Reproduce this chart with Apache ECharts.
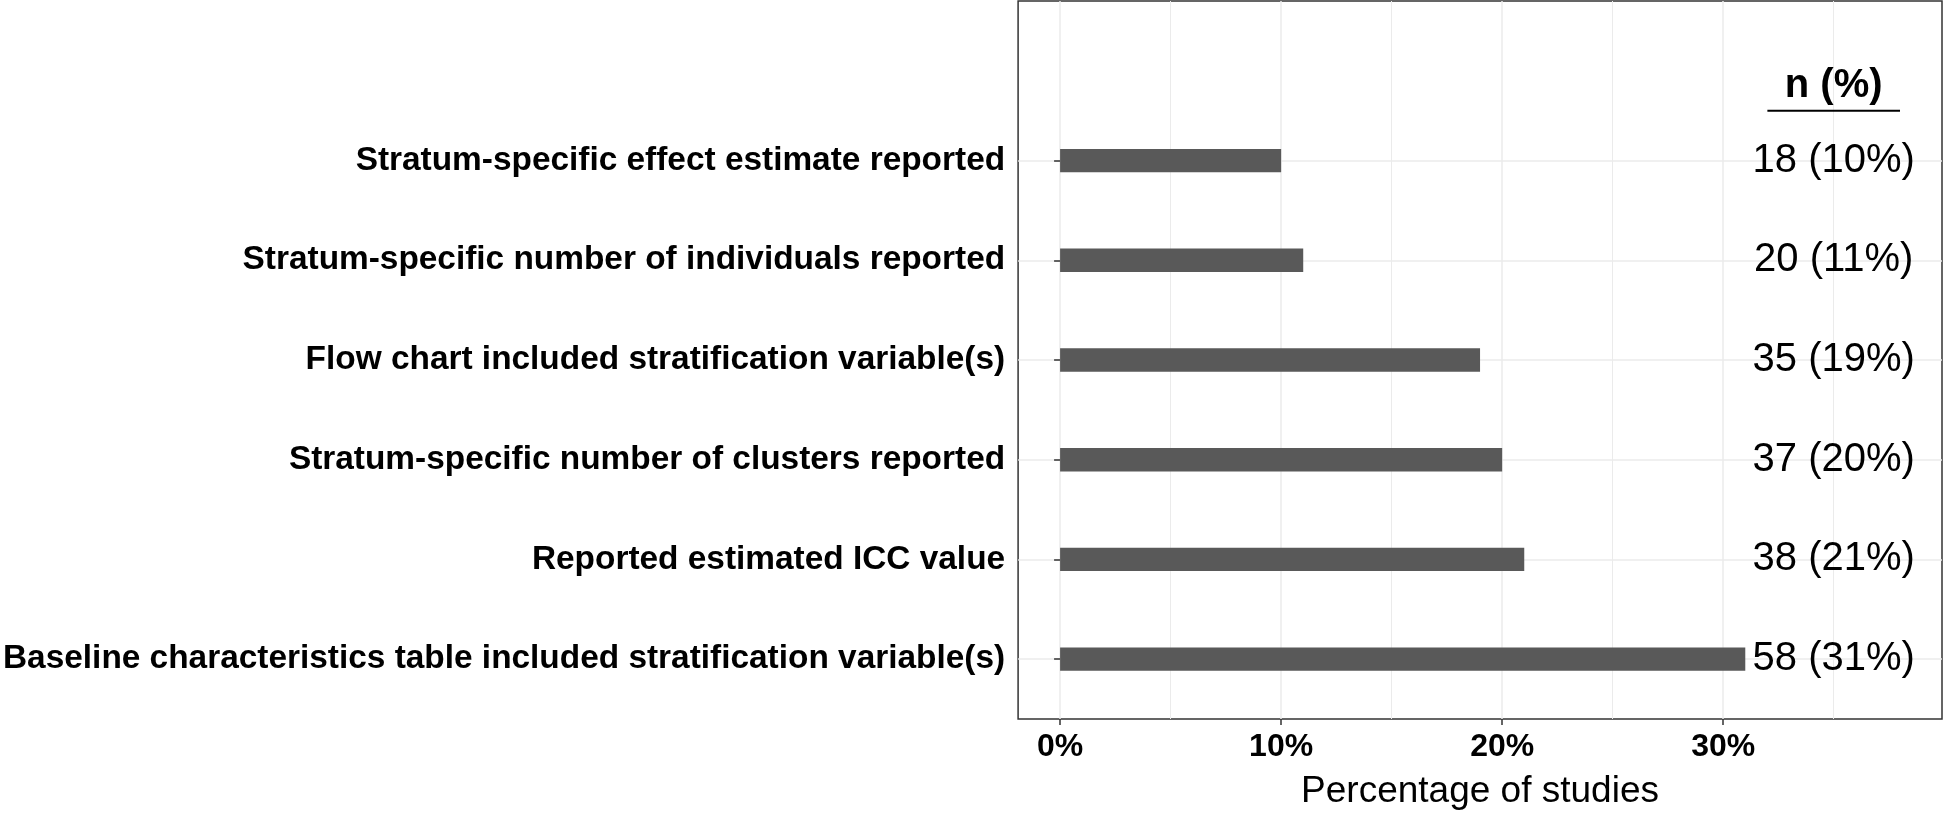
<!DOCTYPE html>
<html>
<head>
<meta charset="utf-8">
<script src="https://cdn.jsdelivr.net/npm/echarts@6/dist/echarts.min.js"></script>
<style>
html,body{margin:0;padding:0;background:#fff;}
#chart{width:1946px;height:815px;}
</style>
</head>
<body>
<div id="chart"></div>
<script>
// Categories listed bottom (y=1) to top (y=6)
var categories = [
  "Baseline characteristics table included stratification variable(s)",
  "Reported estimated ICC value",
  "Stratum-specific number of clusters reported",
  "Flow chart included stratification variable(s)",
  "Stratum-specific number of individuals reported",
  "Stratum-specific effect estimate reported"
];
var percentValues = [31, 21, 20, 19, 11, 10];
var countLabels = ["58 (31%)", "38 (21%)", "37 (20%)", "35 (19%)", "20 (11%)", "18 (10%)"];
var xTickValues = [0, 10, 20, 30];
var xMinorValues = [5, 15, 25, 35];
var headerLabel = "n (%)";
var labelColumnX = 35;
var headerY = 6.75;
var underlineY = 6.5;
var underlineX = [32, 38];

var positions = categories.map(function (c, i) { return i + 1; });
var barData = percentValues.map(function (v, i) { return [v, positions[i]]; });
var labelData = countLabels.map(function (t, i) { return [labelColumnX, positions[i], t]; });

var FONT = '"Liberation Sans", Arial, Helvetica, sans-serif';
var chart = echarts.init(document.getElementById('chart'));
chart.setOption({
  animation: false,
  backgroundColor: '#ffffff',
  grid: {
    left: 1012, right: 4, top: 1, bottom: 88,
    show: true, borderColor: '#333333', borderWidth: 1.5,
    containLabel: false
  },
  xAxis: [{
    type: 'value', min: -1.9, max: 39.9,
    axisLine: { show: false },
    axisTick: { show: true, customValues: xTickValues, length: 6, lineStyle: { color: '#333333', width: 1.5 } },
    axisLabel: {
      customValues: xTickValues, margin: 12,
      formatter: function (v) { return v + '%'; },
      fontFamily: FONT, fontWeight: 'bold', fontSize: 32, color: '#000000'
    },
    splitLine: { show: true, lineStyle: { color: '#ebebeb', width: 1.5 } },
    name: 'Percentage of studies', nameLocation: 'middle', nameGap: 54,
    nameTextStyle: { fontFamily: FONT, fontSize: 37, color: '#000000' }
  }, {
    type: 'value', min: -1.9, max: 39.9,
    axisLine: { show: false },
    axisTick: { show: false, customValues: xMinorValues },
    axisLabel: { show: false },
    splitLine: { show: true, lineStyle: { color: '#ebebeb', width: 1 } }
  }],
  yAxis: {
    type: 'value', min: 0.4, max: 7.6,
    axisLine: { show: false },
    axisTick: { show: true, customValues: positions, length: 6, lineStyle: { color: '#333333', width: 1.5 } },
    axisLabel: {
      customValues: positions, margin: 13,
      formatter: function (v) { return categories[Math.round(v) - 1]; },
      fontFamily: FONT, fontWeight: 'bold', fontSize: 33.4, color: '#000000'
    },
    splitLine: { show: true, lineStyle: { color: '#ebebeb', width: 1.5 } }
  },
  series: [{
    type: 'custom',
    xAxisIndex: 0,
    data: barData,
    encode: { x: 0, y: 1 },
    renderItem: function (params, api) {
      var v = api.value(0), y = api.value(1);
      var s = api.coord([0, y]);
      var e = api.coord([v, y]);
      var h = api.size([0, 0.234])[1];
      return {
        type: 'rect',
        shape: { x: s[0], y: s[1] - h / 2, width: e[0] - s[0], height: h },
        style: { fill: '#595959' }
      };
    },
    z: 3
  }, {
    type: 'scatter',
    xAxisIndex: 0,
    data: labelData,
    symbolSize: 0,
    itemStyle: { color: '#000000', opacity: 1 },
    label: {
      show: true, position: 'inside',
      formatter: function (p) { return p.data[2]; },
      fontFamily: FONT, fontSize: 40, color: '#000000', textBorderWidth: 0
    },
    z: 4
  }, {
    type: 'scatter',
    xAxisIndex: 0,
    data: [[labelColumnX, headerY, headerLabel]],
    symbolSize: 0,
    itemStyle: { color: '#000000', opacity: 1 },
    label: {
      show: true, position: 'inside',
      formatter: function (p) { return p.data[2]; },
      fontFamily: FONT, fontSize: 40, fontWeight: 'bold', color: '#000000', textBorderWidth: 0
    },
    z: 4
  }, {
    type: 'line',
    xAxisIndex: 0,
    data: [[underlineX[0], underlineY], [underlineX[1], underlineY]],
    symbol: 'none',
    lineStyle: { color: '#000000', width: 2 },
    z: 4
  }]
});
</script>
</body>
</html>
